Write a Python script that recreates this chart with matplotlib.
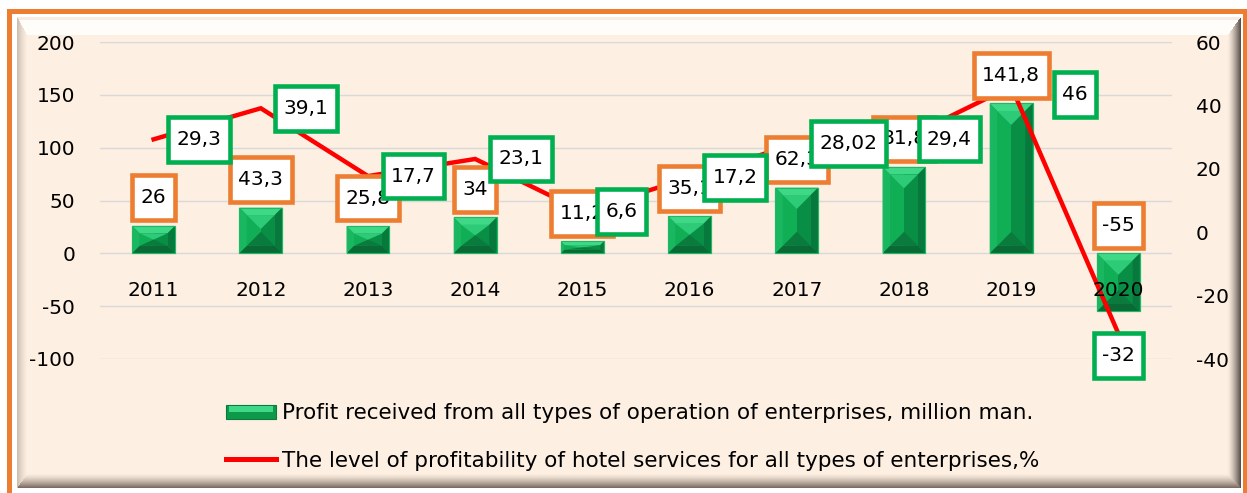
import numpy as np
import matplotlib
matplotlib.use("Agg")
import matplotlib.pyplot as plt
from matplotlib.patches import Polygon, Rectangle
from matplotlib.lines import Line2D
from matplotlib.path import Path

plt.rcParams['font.family'] = ['DejaVu Sans']

# === Data ===
years = ['2011', '2012', '2013', '2014', '2015', '2016', '2017', '2018', '2019', '2020']
profit = [26, 43.3, 25.8, 34, 11.2, 35.1, 62.3, 81.8, 141.8, -55]
rate = [29.3, 39.1, 17.7, 23.1, 6.6, 17.2, 28.02, 29.4, 46, -32]
left_ticks = [-100, -50, 0, 50, 100, 150, 200]
right_ticks = [-40, -20, 0, 20, 40, 60]

profit_name = 'Profit received from all types of operation of enterprises, million man.'
rate_name = 'The level of profitability of hotel services for all types of enterprises,%'

W, H = 1247, 493
ORANGE = '#ED7D31'
GREEN_BOX = '#00B050'
FS = 14.5
LEG_FS = 15.5


def fmt(v):
    return f"{v:g}".replace('.', ',')


# === Background frame (orange border + beveled peach panel) ===
def frame_image():
    img = np.ones((H, W, 3))
    peach = np.array([253, 239, 226]) / 255
    x0, x1, y0, y1 = 17, 1241, 17, 488
    yy, xx = np.mgrid[0:H, 0:W]
    inside = (xx >= x0) & (xx < x1) & (yy >= y0) & (yy < y1)
    img[inside] = peach

    widths = {'top': 18, 'left': 10, 'right': 13, 'bottom': 14}
    edge_col = {'top': np.array([255, 253, 250]) / 255,
                'left': np.array([205, 190, 178]) / 255,
                'right': np.array([90, 80, 76]) / 255,
                'bottom': np.array([125, 108, 98]) / 255}
    t = {'top': (yy - y0) / widths['top'],
         'left': (xx - x0) / widths['left'],
         'right': (x1 - 1 - xx) / widths['right'],
         'bottom': (y1 - 1 - yy) / widths['bottom']}
    stack = np.stack([t[k] for k in ['top', 'left', 'right', 'bottom']])
    side = np.argmin(stack, axis=0)
    tmin = np.min(stack, axis=0)
    for i, k in enumerate(['top', 'left', 'right', 'bottom']):
        m = inside & (side == i) & (tmin < 1)
        if k == 'top':
            a = np.where(tmin[m] < 0.12, 0.4, 1.0)[:, None]
            col = edge_col[k] * a + np.array([240, 225, 212]) / 255 * (1 - a)
        else:
            a = (1 - tmin[m]) ** 1.4
            col = edge_col[k] * a[:, None] + peach * (1 - a[:, None])
        img[m] = col

    org = np.array([237, 125, 49]) / 255
    img[9:14, 7:W] = org
    img[9:H, 7:12] = org
    img[9:H, 1243:W] = org
    return img


def label_box(x0, y0, width, height, mutation_size):
    # square box, taller padding than wide
    px, py = 0.42 * mutation_size, 0.64 * mutation_size
    x0, y0 = x0 - px, y0 - py
    x1, y1 = x0 + width + 2 * px, y0 + height + 2 * py
    return Path([(x0, y0), (x1, y0), (x1, y1), (x0, y1), (x0, y0)], closed=True)


fig = plt.figure(figsize=(W / 100, H / 100), dpi=100)
fig.figimage(frame_image(), xo=0, yo=0, origin='upper', zorder=-10)

ax = fig.add_axes([100 / W, 1 - 359 / H, 1072 / W, 317 / H])
ax.set_facecolor('none')
ax2 = ax.twinx()
ax2.set_facecolor('none')

x = np.arange(len(years))

# === Bars with bevelled facets ===
ax.set_xlim(-0.5, len(years) - 0.5)
ax.set_ylim(-100, 200)
bars = ax.bar(x, profit, width=0.4, color='#0CA44F', edgecolor='#27C46C', linewidth=0.8, zorder=2)

px_x = 1 / 107.2          # data units per pixel, horizontal
px_y = 300 / 317          # data units per pixel, vertical (left axis)
for b in bars:
    bx, by, bw, bh = b.get_x(), b.get_y(), b.get_width(), b.get_height()
    lo, hi = min(by, by + bh), max(by, by + bh)
    w_px = bw / px_x
    h_px = (hi - lo) / px_y
    bev = min(7.5, h_px / 3.2, w_px / 3.2)
    dx, dy = bev * px_x, bev * px_y
    L, R = bx, bx + bw
    iL, iR, iB, iT = L + dx, R - dx, lo + dy, hi - dy
    facets = [
        ([(L, hi), (R, hi), (iR, iT), (iL, iT)], '#3FD886'),
        ([(L, lo), (L, hi), (iL, iT), (iL, iB)], '#19B75F'),
        ([(R, lo), (R, hi), (iR, iT), (iR, iB)], '#07793C'),
        ([(L, lo), (R, lo), (iR, iB), (iL, iB)], '#0A6A36'),
    ]
    for pts, c in facets:
        ax.add_patch(Polygon(pts, closed=True, facecolor=c, edgecolor='none', zorder=3))
    mid = (iL + iR) / 2
    ax.add_patch(Rectangle((iL, iB), mid - iL, iT - iB, facecolor='#10AE55', edgecolor='none', zorder=3))
    ax.add_patch(Rectangle((mid, iB), iR - mid, iT - iB, facecolor='#088E45', edgecolor='none', zorder=3))
    tri = min((iR - iL) / 2 / px_x * px_y, (iT - iB) / 2)
    ax.add_patch(Polygon([(iL, iT), (iR, iT), (mid, iT - tri)], facecolor='#2DCB77', edgecolor='none', zorder=3))
    ax.add_patch(Polygon([(iL, iB), (iR, iB), (mid, iB + tri)], facecolor='#0A7A3D', edgecolor='none', zorder=3))
    ax.add_patch(Rectangle((bx, by), bw, bh, facecolor='none', edgecolor='#1FB864', linewidth=0.8, zorder=4))

# === Profitability line on right axis ===
ax2.set_ylim(-40, 60)
ax2.plot(x, rate, color='#FF0000', linewidth=3.2, zorder=2, solid_joinstyle='miter')

# === Axes styling ===
for a in (ax, ax2):
    for s in a.spines.values():
        s.set_visible(False)
    a.tick_params(length=0, labelsize=FS)

ax.set_yticks(left_ticks)
ax.set_yticklabels([str(v) for v in left_ticks])
ax.tick_params(axis='y', pad=18)
ax.set_xticks([])
ax.grid(axis='y', color='#D9D9D9', linewidth=1.0)
ax.set_axisbelow(True)
ax2.set_yticks(right_ticks)
ax2.set_yticklabels([str(v) for v in right_ticks])
ax2.tick_params(axis='y', pad=17)

# category labels sit just under the zero line of the left axis
for i, yr in enumerate(years):
    ax2.annotate(yr, (i, 0), xycoords=ax.transData, xytext=(0, -37), textcoords='offset pixels',
                 ha='center', va='center', fontsize=FS, zorder=10)

# === Data labels ===
box_kw = dict(boxstyle=label_box, facecolor='white', linewidth=3.3)
for i, v in enumerate(profit):
    ax2.annotate(fmt(v), (i, max(v, 0)), xycoords=ax.transData, xytext=(0, 28),
                 textcoords='offset pixels', ha='center', va='center', fontsize=FS, zorder=11,
                 bbox=dict(box_kw, edgecolor=ORANGE))

rate_offsets = {8: (41, -8), 9: (None, -22)}
for i, v in enumerate(rate):
    dx, dy = rate_offsets.get(i, (13, 0))
    if dx is None:
        ha, dx = 'center', 0
    else:
        ha, dx = 'left', dx + 10
    ax2.annotate(fmt(v), (i, v), xytext=(dx, dy), textcoords='offset pixels',
                 ha=ha, va='center', fontsize=FS, zorder=12,
                 bbox=dict(box_kw, edgecolor=GREEN_BOX))


# === Legend ===
class BevelHandler:
    def legend_artist(self, legend, orig_handle, fontsize, handlebox):
        x0, y0 = handlebox.xdescent, handlebox.ydescent
        w, h = handlebox.width, handlebox.height
        tr = handlebox.get_transform()
        base = Rectangle((x0, y0), w, h, facecolor='#0C9A4A', edgecolor='#0B7A3C', linewidth=0.8, transform=tr)
        hl = Rectangle((x0 + 2, y0 + h * 0.5), w - 4, h * 0.4, facecolor='#3ED886', edgecolor='none', transform=tr)
        handlebox.add_artist(base)
        handlebox.add_artist(hl)
        return base


bar_handle = Rectangle((0, 0), 1, 1)
line_handle = Line2D([], [], color='#FF0000', linewidth=3.6)
fig.legend([bar_handle, line_handle], [profit_name, rate_name],
           handler_map={Rectangle: BevelHandler()},
           loc='upper left', bbox_to_anchor=(226 / W, 1 - 403 / H), frameon=False,
           fontsize=LEG_FS, handlelength=2.3, handleheight=0.65, handletextpad=0.28,
           labelspacing=1.29, borderpad=0, borderaxespad=0)

fig.savefig('out.png', dpi=100)
